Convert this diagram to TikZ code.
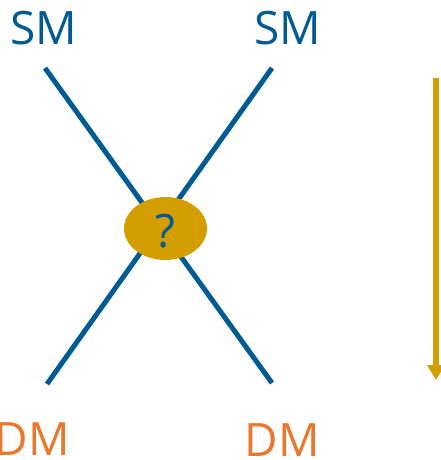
\documentclass[tikz,border=0pt]{standalone}
\usepackage{fontspec}
\setmainfont{Open Sans}
\usetikzlibrary{shapes.geometric,arrows.meta}
\definecolor{smblue}{HTML}{005A94}
\definecolor{gold}{HTML}{D59E00}
\definecolor{dmorange}{HTML}{E8772F}
\tikzset{
  smlabel/.style={text=smblue,font=\fontsize{46}{46}\selectfont,anchor=base,inner sep=0pt},
  dmlabel/.style={text=dmorange,font=\fontsize{46}{46}\selectfont,anchor=base,inner sep=0pt},
  crossline/.style={draw=smblue,line width=5pt},
  flowarrow/.style={draw=gold,line width=6pt,-{Triangle[width=17pt,length=15pt]}},
  blob/.style={ellipse,fill=gold,minimum width=83pt,minimum height=63pt,inner sep=0pt}
}
\begin{document}
\begin{tikzpicture}[x=1pt,y=-1pt]
  \useasboundingbox (0,0) rectangle (440,460);
  % labels
  \node[smlabel] (smL) at (43.5,45) {SM};
  \node[smlabel] (smR) at (288,45) {SM};
  \node[dmlabel] (dmL) at (32,455) {DM};
  \node[dmlabel] (dmR) at (282,456) {DM};
  % line end points
  \coordinate (tl) at (45,68);
  \coordinate (tr) at (272,68);
  \coordinate (bl) at (47,384);
  \coordinate (br) at (272,383);
  \draw[crossline] (tl) -- (br);
  \draw[crossline] (tr) -- (bl);
  % central unknown
  \node[blob] (q) at (165.5,228.5) {};
  \node[smlabel] (qm) at (165,247) {?};
  % downward arrow
  \coordinate (at) at (436,78);
  \coordinate (ab) at (436,380);
  \draw[flowarrow] (at) -- (ab);
\end{tikzpicture}
\end{document}
